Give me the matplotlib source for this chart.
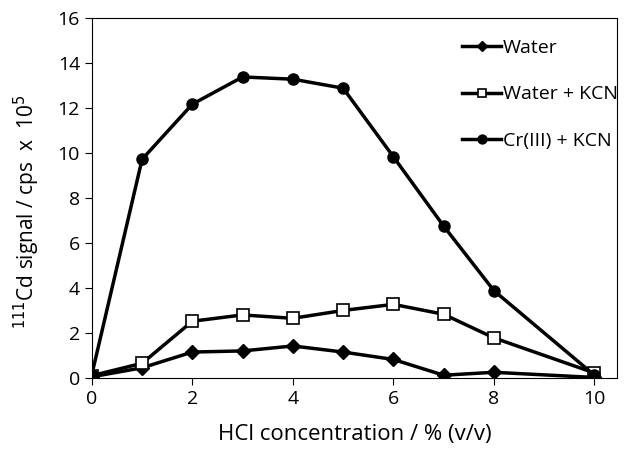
import matplotlib
matplotlib.use('Agg')
import matplotlib.pyplot as plt

plt.rcParams['font.family'] = ['Open Sans', 'DejaVu Sans']

# HCl concentration (% v/v)
hcl = [0, 1, 2, 3, 4, 5, 6, 7, 8, 10]

# 111Cd signal (cps x 10^5)
water = [0.05, 0.45, 1.15, 1.2, 1.42, 1.15, 0.82, 0.12, 0.25, 0.02]
water_kcn = [0.1, 0.65, 2.52, 2.8, 2.65, 3.0, 3.27, 2.83, 1.78, 0.22]
cr_kcn = [0.15, 9.72, 12.17, 13.38, 13.28, 12.88, 9.83, 6.75, 3.88, 0.12]

fig = plt.figure(figsize=(6.29, 4.62), dpi=100)
ax = fig.add_axes([0.146, 0.182, 0.835, 0.779])

ax.plot(hcl, water, color='black', lw=2.5, marker='D', ms=7, label='Water')
ax.plot(hcl, water_kcn, color='black', lw=2.5, marker='s', ms=8,
        markerfacecolor='white', markeredgewidth=1.2, label='Water + KCN')
ax.plot(hcl, cr_kcn, color='black', lw=2.5, marker='o', ms=8, label='Cr(III) + KCN')

ax.set_xlim(0, 10.45)
ax.set_ylim(0, 16)
ax.set_xticks([0, 2, 4, 6, 8, 10])
ax.set_yticks(range(0, 17, 2))
ax.tick_params(direction='out', length=5, labelsize=14)
ax.set_xlabel('HCl concentration / % (v/v)', fontsize=16, labelpad=12)
ax.set_ylabel(r'$^{111}$Cd signal / cps  x  10$^5$', fontsize=15)
ax.yaxis.set_label_coords(-0.095, 0.46)

ax.legend(loc='upper right', bbox_to_anchor=(1.035, 0.99), frameon=False,
          fontsize=14, handlelength=2.0, handletextpad=0.1, labelspacing=1.45,
          borderaxespad=0.0, markerscale=0.8, borderpad=0.9)

fig.savefig('out.png', dpi=100)
